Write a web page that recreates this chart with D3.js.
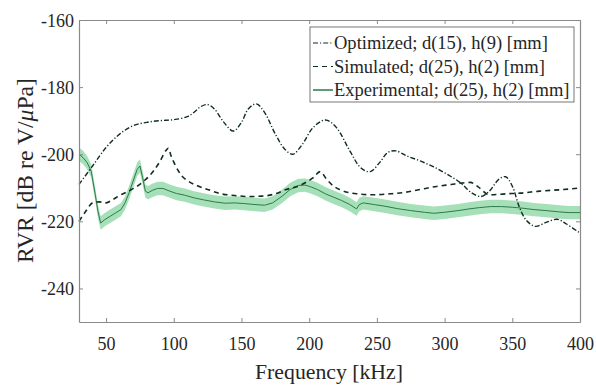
<!DOCTYPE html>
<html>
<head>
<meta charset="utf-8">
<script src="https://cdn.jsdelivr.net/npm/d3@7"></script>
<style>
  body { margin: 0; background: #fff; }
</style>
</head>
<body>
<div id="chart"></div>
<script>
// frequencies in kHz, RVR in dB re V/uPa
const optFreq = [30, 40, 50, 60, 70, 80, 90, 100, 110, 115, 120, 125, 130, 137, 144, 150, 155, 161, 167, 175, 182, 188, 195, 203, 212, 220, 230, 238, 245, 252, 258, 264, 272, 282, 292, 302, 312, 320, 327, 333, 340, 345, 350, 355, 360, 367, 375, 383, 390, 400];
const optRvr = [-209, -203.5, -198, -194, -191.5, -190.5, -190, -189.7, -188.8, -187.5, -185.8, -185.2, -186.5, -190.5, -193.1, -190.5, -186.5, -185, -187.5, -194, -198.5, -200, -197, -192, -189.8, -192, -199, -204, -205.2, -202.5, -199.5, -199, -200.5, -202, -203.8, -206, -208.6, -211.5, -212.6, -211, -207.5, -206.7, -209.5, -215.5, -219.5, -221.5, -220.3, -219.4, -220.8, -223.5];

const simFreq = [30, 35, 40, 45, 50, 55, 60, 66, 72, 79, 85, 90, 94, 96, 98, 101, 106, 111, 118, 125, 135, 145, 155, 165, 175, 183, 190, 197, 203, 208, 213, 218, 223, 235, 247, 260, 270, 282, 294, 305, 312, 319, 325, 333, 345, 356, 370, 385, 399];
const simRvr = [-220, -217, -214.5, -214.2, -214.5, -213.5, -212.3, -211.1, -209.8, -207.6, -205, -202, -199, -198.2, -200.5, -203.2, -206.5, -208.1, -209.5, -210.5, -211.8, -212.3, -212.6, -212.5, -211.8, -210.5, -209.8, -208.5, -207, -205.2, -207.5, -209.5, -210.6, -211.8, -212.1, -211.8, -211.4, -210.5, -209.6, -209, -208.6, -208.4, -209.8, -212.1, -211.8, -211.6, -211, -210.6, -210.1];

const expFreq = [30, 33, 36, 39, 42, 44, 46, 49, 53, 57, 61, 64, 67, 70, 73, 75, 77, 79, 81, 84, 88, 92, 97, 102, 108, 115, 122, 130, 138, 145, 152, 160, 167, 173, 180, 186, 192, 197, 201, 206, 212, 218, 224, 230, 235, 237, 240, 248, 256, 265, 275, 285, 292, 300, 310, 318, 326, 334, 342, 350, 358, 366, 375, 385, 392, 400];
const expRvr = [-200, -201, -202.5, -205, -212, -217, -220.5, -219.5, -218.5, -217.5, -216.5, -214.5, -211.5, -208, -204.5, -203.5, -207, -211, -211.5, -210.8, -210.2, -210.2, -211, -211.7, -212.2, -213, -213.6, -214.2, -214.6, -214.5, -214.7, -215, -215.2, -214.5, -212.5, -210.5, -209.3, -209.2, -209.7, -210.5, -211.8, -212.8, -213.8, -215, -216.3, -215, -214.5, -215, -215.5, -216.2, -216.8, -217.3, -217.6, -217.3, -216.8, -216.3, -215.9, -215.6, -215.6, -215.8, -216.1, -216.5, -216.8, -217.2, -217.4, -217.4];
const expSpread = 2; // half width of shaded band, dB

const xTicks = [50, 100, 150, 200, 250, 300, 350, 400];
const yTicks = [-240, -220, -200, -180, -160];
const legendLabels = ["Optimized; d(15), h(9) [mm]", "Simulated; d(25), h(2) [mm]", "Experimental; d(25), h(2) [mm]"];

const fontFam = "'Liberation Serif'";

const width = 596, height = 385;
const margin = {top: 20, right: 16, bottom: 63, left: 79};
const w = width - margin.left - margin.right;
const h = height - margin.top - margin.bottom;

const darkCol = "#0f2e1f";
const expCol = "#2d7a48";
const bandCol = "#a6e0b9";
const textCol = "#262626";

const svg = d3.select("#chart").append("svg")
  .attr("width", width)
  .attr("height", height);

const g = svg.append("g")
  .attr("transform", "translate(" + margin.left + "," + margin.top + ")");

const x = d3.scaleLinear().domain([30, 400]).range([0, w]);
const y = d3.scaleLinear().domain([-250, -160]).range([h, 0]);

const zip = (a, b) => a.map((v, i) => [v, b[i]]);

// fit font size so text spans target width
function fit(sel, target) {
  const fs = parseFloat(sel.style("font-size"));
  const len = sel.node().getComputedTextLength();
  if (len > 0) sel.style("font-size", (fs * target / len).toFixed(2) + "px");
  return sel;
}

// band
g.append("path")
  .datum(zip(expFreq, expRvr))
  .attr("fill", bandCol)
  .attr("d", d3.area()
    .x(d => x(d[0]))
    .y0(d => y(d[1] - expSpread))
    .y1(d => y(d[1] + expSpread)));

g.append("path")
  .datum(zip(expFreq, expRvr))
  .attr("fill", "none")
  .attr("stroke", expCol)
  .attr("stroke-width", 1)
  .attr("d", d3.line().x(d => x(d[0])).y(d => y(d[1])));

g.append("path")
  .datum(zip(simFreq, simRvr))
  .attr("fill", "none")
  .attr("stroke", darkCol)
  .attr("stroke-width", 1.6)
  .attr("stroke-dasharray", "5,4")
  .attr("d", d3.line().x(d => x(d[0])).y(d => y(d[1])).curve(d3.curveMonotoneX));

g.append("path")
  .datum(zip(optFreq, optRvr))
  .attr("fill", "none")
  .attr("stroke", darkCol)
  .attr("stroke-width", 1.4)
  .attr("stroke-dasharray", "5,2,1.2,2")
  .attr("d", d3.line().x(d => x(d[0])).y(d => y(d[1])).curve(d3.curveCatmullRom));

// axes, box with inward ticks
const axisCol = "#8a8a8a";
const fmt = d => String(d);
const xAxis = g.append("g")
  .attr("transform", "translate(0," + h + ")")
  .call(d3.axisBottom(x).tickValues(xTicks).tickFormat(fmt).tickSizeInner(-4).tickSizeOuter(0));
const yAxis = g.append("g")
  .call(d3.axisLeft(y).tickValues(yTicks).tickFormat(fmt).tickSizeInner(-4).tickSizeOuter(0));
g.append("g")
  .call(d3.axisTop(x).tickValues(xTicks).tickSizeInner(-4).tickSizeOuter(0).tickFormat(""));
g.append("g")
  .attr("transform", "translate(" + w + ",0)")
  .call(d3.axisRight(y).tickValues(yTicks).tickSizeInner(-4).tickSizeOuter(0).tickFormat(""));

g.selectAll(".domain").attr("stroke", axisCol).attr("stroke-width", 1.2);
g.selectAll(".tick line").attr("stroke", axisCol);
g.selectAll(".tick text")
  .style("font-family", fontFam)
  .style("font-size", "18px")
  .attr("fill", textCol);
yAxis.selectAll(".tick text").attr("dy", "0.34em").attr("x", -5);
xAxis.selectAll(".tick text").attr("dy", null).attr("y", 28);

// labels
const xl = svg.append("text")
  .attr("x", 329)
  .attr("y", 379)
  .attr("text-anchor", "middle")
  .style("font-family", fontFam)
  .style("font-size", "19px")
  .attr("fill", textCol)
  .text("Frequency [kHz]");
fit(xl, 148);

const yl = svg.append("text")
  .attr("transform", "translate(33,170.5) rotate(-90)")
  .attr("text-anchor", "middle")
  .style("font-family", fontFam)
  .style("font-size", "19px")
  .attr("fill", textCol);
yl.append("tspan").text("RVR [dB re V/");
yl.append("tspan").attr("font-style", "italic").text("\u03bc");
yl.append("tspan").text("Pa]");
fit(yl, 185);

// legend
const leg = svg.append("g").attr("transform", "translate(310,27)");
leg.append("rect")
  .attr("width", 264).attr("height", 75)
  .attr("fill", "#fff")
  .attr("stroke", "#555").attr("stroke-width", 0.8);
const dashes = ["5,2,1.2,2", "5,4", null];
const cols = [darkCol, darkCol, expCol];
const legTexts = [];
legendLabels.forEach((t, i) => {
  const yy = 16 + i * 23.5;
  leg.append("line")
    .attr("x1", 3).attr("x2", 23)
    .attr("y1", yy).attr("y2", yy)
    .attr("stroke", cols[i])
    .attr("stroke-width", i === 2 ? 1.5 : 1.1)
    .attr("stroke-dasharray", dashes[i]);
  legTexts.push(leg.append("text")
    .attr("x", 24).attr("y", yy)
    .attr("dy", "0.35em")
    .style("font-family", fontFam)
    .style("font-size", "16.5px")
    .attr("fill", textCol)
    .text(t));
});
const lfs = 16.5 * 214 / legTexts[0].node().getComputedTextLength();
legTexts.forEach(t => t.style("font-size", lfs.toFixed(2) + "px"));
</script>
</body>
</html>
